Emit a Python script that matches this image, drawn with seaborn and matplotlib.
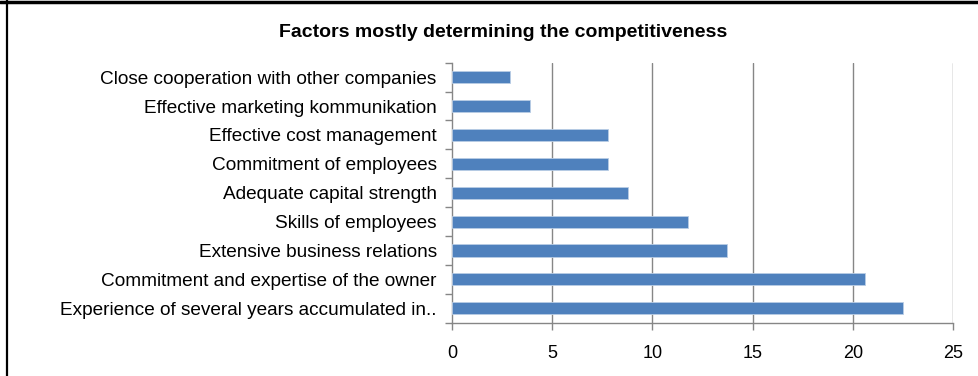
import matplotlib
matplotlib.use("Agg")
import matplotlib.pyplot as plt
import seaborn as sns
import pandas as pd
from matplotlib.lines import Line2D

factors = [
    "Close cooperation with other companies",
    "Effective marketing kommunikation",
    "Effective cost management",
    "Commitment of employees",
    "Adequate capital strength",
    "Skills of employees",
    "Extensive business relations",
    "Commitment and expertise of the owner",
    "Experience of several years accumulated in..",
]
scores = [2.9, 3.9, 7.8, 7.8, 8.8, 11.8, 13.7, 20.6, 22.5]
x_ticks = [0, 5, 10, 15, 20, 25]

df = pd.DataFrame({"factor": factors, "score": scores})

sns.set_theme(style="white")
plt.rcParams["font.family"] = ["Liberation Sans", "DejaVu Sans"]

fig = plt.figure(figsize=(9.79, 3.76), dpi=100)
ax = fig.add_axes([0.4617, 0.1418, 0.5117, 0.6914])

sns.barplot(data=df, x="score", y="factor", ax=ax, color="#4F81BD",
            saturation=1, width=0.42, edgecolor="#B9CDE5", linewidth=0.6,
            zorder=3)

ax.set_xlim(0, 25)
ax.set_xticks(x_ticks)
ax.set_ylim(len(factors) - 0.5, -0.5)
ax.set_xlabel("")
ax.set_ylabel("")

# vertical gridlines
for v in x_ticks[1:]:
    ax.axvline(v, color="#868686", lw=1.0, zorder=1)

for side in ["top", "right"]:
    ax.spines[side].set_visible(False)
for side in ["left", "bottom"]:
    ax.spines[side].set_color("#868686")
    ax.spines[side].set_linewidth(1.0)

# category boundary ticks on the y axis
ax.set_yticks(range(len(factors)))
ax.set_yticklabels(factors, fontsize=13.7, color="black")
ax.set_yticks([i - 0.5 for i in range(len(factors) + 1)], minor=True)
ax.tick_params(axis="y", which="major", length=0, pad=11)
ax.tick_params(axis="y", which="minor", length=5, width=1, color="#868686",
               direction="out", left=True)
ax.tick_params(axis="x", which="major", length=5, width=1, color="#868686",
               direction="out", bottom=True, labelsize=13, pad=11,
               labelcolor="black")

fig.text(0.514, 0.913, "Factors mostly determining the competitiveness",
         ha="center", va="center", fontsize=14, fontweight="bold",
         color="black")

# outer frame lines
fig.add_artist(Line2D([0, 1], [0.995, 0.995], transform=fig.transFigure,
                      color="black", lw=2.5))
fig.add_artist(Line2D([0.0075, 0.0075], [0, 1], transform=fig.transFigure,
                      color="black", lw=1.6))

fig.savefig("out.png", dpi=100)
